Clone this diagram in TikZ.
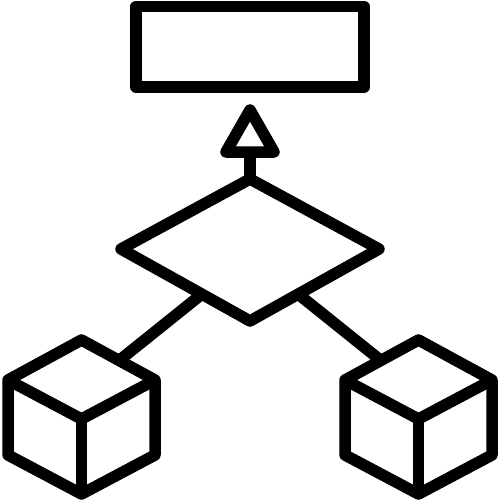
\documentclass[tikz,border=0pt]{standalone}
\begin{document}
\begin{tikzpicture}[x=1pt,y=-1pt,
  icon/.style={draw=black,line width=11.5pt,line join=round,line cap=butt}]
\useasboundingbox (0,0) rectangle (500,500);
% top box
\coordinate (boxS) at (250,87);
\draw[icon] (136,6.5) rectangle (364,87);
% arrow triangle and stem
\coordinate (triA) at (250,110);
\coordinate (triB) at (250,152);
\draw[icon] (triA) -- (274,152) -- (226,152) -- cycle;
% diamond
\coordinate (dT) at (250,179);
\coordinate (dL) at (121,249);
\coordinate (dR) at (379,249);
\coordinate (dB) at (250,321);
\draw[icon] (dT) -- (dR) -- (dB) -- (dL) -- cycle;
\draw[icon] (triB) -- (dT);
% legs
\coordinate (legL1) at (202,294);
\coordinate (legL2) at (121,359);
\coordinate (legR1) at (298,294);
\coordinate (legR2) at (379,359);
\draw[icon] (legL1) -- (legL2);
\draw[icon] (legR1) -- (legR2);
% left cube
\draw[icon] (81.5,340) -- (155,380) -- (155,455) -- (81.5,494) -- (8,455) -- (8,380) -- cycle;
\draw[icon] (8,380) -- (81.5,419) -- (155,380);
\draw[icon] (81.5,419) -- (81.5,494);
% right cube
\draw[icon] (418.5,340) -- (492,380) -- (492,455) -- (418.5,494) -- (345,455) -- (345,380) -- cycle;
\draw[icon] (345,380) -- (418.5,419) -- (492,380);
\draw[icon] (418.5,419) -- (418.5,494);
\end{tikzpicture}
\end{document}
